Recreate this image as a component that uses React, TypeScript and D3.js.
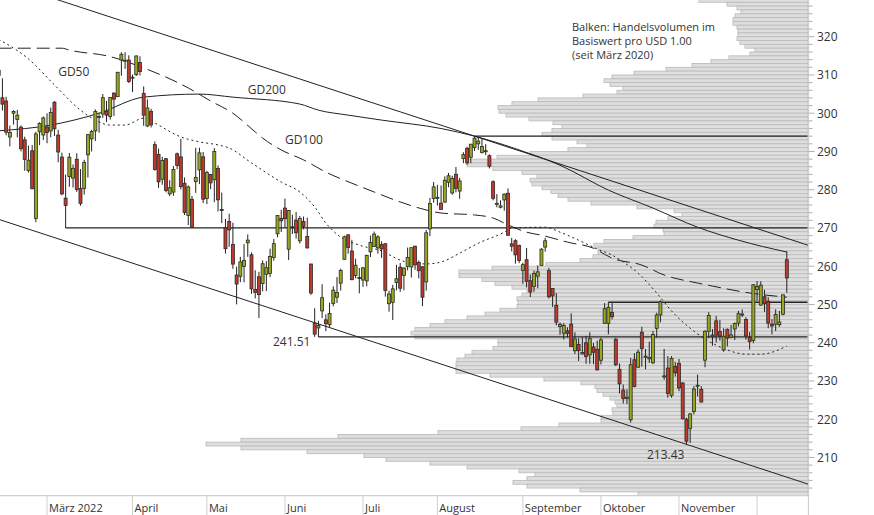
import React from "react";
import * as d3 from "d3";

// [date, open, high, low, close]
const CANDLES: [string, number, number, number, number][] = [
  ["2022-02-09", 309.87, 311.93, 307.39, 311.21],
  ["2022-02-10", 304.04, 309.12, 300.7, 302.38],
  ["2022-02-11", 303.19, 304.29, 294.22, 295.04],
  ["2022-02-14", 293.77, 296.76, 291.35, 295.0],
  ["2022-02-15", 300.01, 300.8, 297.02, 300.47],
  ["2022-02-16", 298.37, 300.87, 293.68, 299.5],
  ["2022-02-17", 296.36, 296.8, 290.0, 290.73],
  ["2022-02-18", 293.05, 293.86, 284.96, 287.93],
  ["2022-02-22", 285.0, 291.54, 284.5, 287.72],
  ["2022-02-23", 290.18, 291.7, 280.1, 280.27],
  ["2022-02-24", 272.51, 295.16, 271.52, 294.59],
  ["2022-02-25", 295.14, 297.63, 291.65, 297.31],
  ["2022-02-28", 294.31, 299.14, 293.0, 298.79],
  ["2022-03-01", 296.4, 299.97, 292.15, 294.95],
  ["2022-03-02", 295.36, 301.47, 293.7, 300.19],
  ["2022-03-03", 302.89, 303.13, 294.05, 295.92],
  ["2022-03-04", 294.29, 295.66, 287.17, 289.86],
  ["2022-03-07", 288.53, 289.69, 278.53, 278.91],
  ["2022-03-08", 277.8, 283.96, 270.0, 275.85],
  ["2022-03-09", 283.44, 289.6, 280.78, 288.5],
  ["2022-03-10", 283.02, 286.6, 280.58, 285.59],
  ["2022-03-11", 287.96, 289.51, 279.43, 280.07],
  ["2022-03-14", 280.34, 285.4, 275.82, 276.44],
  ["2022-03-15", 280.35, 287.82, 278.73, 287.15],
  ["2022-03-16", 289.11, 294.57, 283.2, 294.39],
  ["2022-03-17", 293.29, 295.66, 290.0, 295.22],
  ["2022-03-18", 295.37, 301.0, 292.73, 300.43],
  ["2022-03-21", 298.89, 300.14, 294.9, 299.16],
  ["2022-03-22", 299.8, 305.0, 298.77, 304.06],
  ["2022-03-23", 300.51, 303.23, 297.72, 299.49],
  ["2022-03-24", 299.14, 304.2, 298.32, 304.1],
  ["2022-03-25", 305.23, 305.5, 299.29, 303.68],
  ["2022-03-28", 304.33, 310.8, 304.33, 310.7],
  ["2022-03-29", 313.91, 315.95, 309.8, 315.41],
  ["2022-03-30", 313.76, 315.95, 311.58, 313.86],
  ["2022-03-31", 313.9, 315.14, 307.89, 308.31],
  ["2022-04-01", 309.37, 310.13, 305.54, 309.42],
  ["2022-04-04", 310.09, 315.11, 309.71, 314.97],
  ["2022-04-05", 313.27, 314.87, 309.87, 310.88],
  ["2022-04-06", 305.19, 307.0, 296.71, 299.5],
  ["2022-04-07", 296.66, 303.65, 296.35, 301.37],
  ["2022-04-08", 300.44, 301.12, 296.28, 296.97],
  ["2022-04-11", 291.79, 292.61, 285.0, 285.26],
  ["2022-04-12", 289.24, 290.74, 280.49, 282.06],
  ["2022-04-13", 282.73, 288.58, 281.3, 287.62],
  ["2022-04-14", 288.09, 288.31, 279.32, 279.83],
  ["2022-04-18", 278.91, 282.46, 278.34, 280.52],
  ["2022-04-19", 279.38, 286.17, 278.41, 285.3],
  ["2022-04-20", 289.4, 289.7, 285.37, 286.36],
  ["2022-04-21", 288.58, 293.3, 280.06, 280.81],
  ["2022-04-22", 281.68, 283.2, 273.38, 274.03],
  ["2022-04-25", 273.29, 281.11, 270.77, 280.72],
  ["2022-04-26", 277.5, 278.36, 270.0, 270.22],
  ["2022-04-27", 282.1, 290.97, 279.16, 283.22],
  ["2022-04-28", 285.19, 290.98, 281.46, 289.63],
  ["2022-04-29", 288.61, 289.88, 276.5, 277.52],
  ["2022-05-02", 277.71, 284.94, 276.22, 284.47],
  ["2022-05-03", 283.96, 284.13, 280.15, 281.78],
  ["2022-05-04", 282.59, 290.88, 276.73, 289.98],
  ["2022-05-05", 285.54, 286.35, 274.34, 277.35],
  ["2022-05-06", 274.81, 279.25, 271.27, 274.73],
  ["2022-05-09", 270.06, 272.36, 263.32, 264.58],
  ["2022-05-10", 271.69, 273.75, 265.07, 269.5],
  ["2022-05-11", 265.68, 271.36, 259.3, 260.55],
  ["2022-05-12", 257.69, 259.88, 250.02, 255.35],
  ["2022-05-13", 257.35, 262.45, 255.82, 261.12],
  ["2022-05-16", 259.96, 265.82, 255.78, 261.5],
  ["2022-05-17", 266.11, 268.33, 262.46, 266.82],
  ["2022-05-18", 263.0, 263.6, 252.77, 254.08],
  ["2022-05-19", 253.9, 258.95, 251.58, 253.14],
  ["2022-05-20", 257.24, 258.54, 246.44, 252.56],
  ["2022-05-23", 255.49, 261.5, 253.43, 260.65],
  ["2022-05-24", 257.89, 261.33, 253.5, 259.62],
  ["2022-05-25", 258.14, 264.58, 257.13, 262.52],
  ["2022-05-26", 262.27, 267.11, 261.43, 265.9],
  ["2022-05-27", 268.48, 273.34, 267.56, 273.24],
  ["2022-05-31", 272.53, 274.77, 268.93, 271.87],
  ["2022-06-01", 275.2, 277.69, 270.04, 272.42],
  ["2022-06-02", 264.45, 274.65, 261.6, 274.58],
  ["2022-06-03", 270.31, 273.45, 268.41, 270.02],
  ["2022-06-06", 272.06, 274.18, 267.22, 268.75],
  ["2022-06-07", 266.64, 273.13, 265.94, 272.5],
  ["2022-06-08", 271.71, 273.0, 269.61, 270.41],
  ["2022-06-09", 267.78, 272.71, 264.63, 264.79],
  ["2022-06-10", 260.58, 260.58, 252.53, 252.99],
  ["2022-06-13", 245.11, 249.02, 241.53, 242.26],
  ["2022-06-14", 243.86, 245.74, 241.51, 244.49],
  ["2022-06-15", 248.31, 255.3, 246.42, 251.76],
  ["2022-06-16", 245.98, 247.42, 243.02, 244.97],
  ["2022-06-17", 244.7, 250.5, 244.03, 247.65],
  ["2022-06-21", 250.26, 254.75, 249.51, 253.74],
  ["2022-06-22", 251.89, 257.17, 250.37, 253.13],
  ["2022-06-23", 255.57, 259.37, 253.63, 258.86],
  ["2022-06-24", 261.81, 267.98, 261.72, 267.7],
  ["2022-06-27", 268.21, 268.3, 263.28, 264.89],
  ["2022-06-28", 263.98, 266.91, 256.32, 256.48],
  ["2022-06-29", 257.59, 261.97, 256.81, 260.26],
  ["2022-06-30", 257.05, 259.53, 252.9, 256.83],
  ["2022-07-01", 256.39, 259.77, 254.61, 259.58],
  ["2022-07-05", 256.16, 262.98, 254.74, 262.85],
  ["2022-07-06", 263.75, 267.99, 262.4, 266.21],
  ["2022-07-07", 265.12, 269.06, 265.02, 268.4],
  ["2022-07-08", 264.79, 268.1, 263.29, 267.66],
  ["2022-07-11", 265.65, 266.53, 262.18, 264.51],
  ["2022-07-12", 265.88, 265.94, 252.04, 253.67],
  ["2022-07-13", 250.19, 253.55, 248.11, 252.72],
  ["2022-07-14", 250.57, 255.14, 245.94, 254.08],
  ["2022-07-15", 255.72, 260.37, 253.68, 256.72],
  ["2022-07-18", 259.75, 260.84, 253.3, 254.25],
  ["2022-07-19", 257.58, 259.72, 253.68, 259.53],
  ["2022-07-20", 259.9, 264.87, 258.91, 262.27],
  ["2022-07-21", 259.79, 264.89, 257.03, 264.84],
  ["2022-07-22", 265.24, 265.33, 259.07, 260.36],
  ["2022-07-25", 261.0, 261.5, 256.81, 258.83],
  ["2022-07-26", 259.86, 259.88, 249.57, 251.9],
  ["2022-07-27", 255.89, 269.48, 253.61, 268.74],
  ["2022-07-28", 269.75, 277.84, 267.87, 276.41],
  ["2022-07-29", 277.7, 282.0, 276.63, 280.74],
  ["2022-08-01", 277.82, 281.28, 275.84, 278.01],
  ["2022-08-02", 276.48, 281.11, 275.08, 274.82],
  ["2022-08-03", 276.76, 283.5, 276.61, 282.47],
  ["2022-08-04", 281.95, 284.39, 280.64, 283.65],
  ["2022-08-05", 279.15, 283.65, 278.68, 282.91],
  ["2022-08-08", 284.05, 285.92, 279.32, 280.32],
  ["2022-08-09", 279.64, 283.08, 277.61, 282.3],
  ["2022-08-10", 288.17, 289.81, 286.94, 289.16],
  ["2022-08-11", 290.85, 291.21, 286.51, 287.02],
  ["2022-08-12", 288.48, 291.91, 286.94, 291.91],
  ["2022-08-15", 291.0, 294.0, 290.11, 293.47],
  ["2022-08-16", 291.99, 293.6, 290.42, 292.71],
  ["2022-08-17", 289.74, 293.35, 289.47, 291.32],
  ["2022-08-18", 290.19, 291.91, 289.08, 290.17],
  ["2022-08-19", 288.9, 289.25, 285.56, 286.15],
  ["2022-08-22", 282.08, 282.46, 277.22, 277.75],
  ["2022-08-23", 276.44, 278.86, 275.4, 276.44],
  ["2022-08-24", 275.41, 277.23, 275.11, 275.79],
  ["2022-08-25", 277.33, 279.02, 274.52, 278.85],
  ["2022-08-26", 279.08, 280.34, 267.98, 268.09],
  ["2022-08-29", 265.85, 267.4, 263.85, 265.23],
  ["2022-08-30", 266.67, 267.05, 260.66, 262.97],
  ["2022-08-31", 265.39, 265.64, 260.8, 261.47],
  ["2022-09-01", 258.87, 260.89, 255.41, 260.4],
  ["2022-09-02", 261.7, 264.74, 254.47, 256.06],
  ["2022-09-06", 256.2, 257.83, 251.94, 253.25],
  ["2022-09-07", 254.7, 258.84, 253.32, 258.09],
  ["2022-09-08", 257.4, 260.2, 254.22, 258.52],
  ["2022-09-09", 260.2, 264.71, 260.13, 264.46],
  ["2022-09-12", 265.0, 267.45, 263.8, 266.65],
  ["2022-09-13", 258.84, 259.54, 251.59, 251.99],
  ["2022-09-14", 254.19, 254.19, 249.37, 252.22],
  ["2022-09-15", 249.77, 253.0, 244.55, 245.38],
  ["2022-09-16", 244.26, 245.3, 242.06, 244.74],
  ["2022-09-19", 242.47, 245.14, 240.85, 244.52],
  ["2022-09-20", 243.1, 244.01, 241.33, 242.45],
  ["2022-09-21", 244.85, 247.66, 238.9, 238.95],
  ["2022-09-22", 237.88, 242.74, 237.05, 240.98],
  ["2022-09-23", 239.54, 241.13, 235.2, 237.92],
  ["2022-09-26", 237.05, 241.45, 236.9, 237.45],
  ["2022-09-27", 239.98, 241.8, 234.5, 236.41],
  ["2022-09-28", 236.81, 242.74, 234.48, 241.07],
  ["2022-09-29", 238.89, 239.95, 234.41, 237.5],
  ["2022-09-30", 238.29, 240.54, 232.73, 232.9],
  ["2022-10-03", 235.41, 241.28, 234.33, 240.74],
  ["2022-10-04", 245.09, 250.36, 244.98, 248.88],
  ["2022-10-05", 245.01, 250.58, 242.2, 249.2],
  ["2022-10-06", 247.93, 250.34, 246.08, 246.79],
  ["2022-10-07", 240.9, 241.32, 233.87, 234.24],
  ["2022-10-10", 233.05, 234.56, 226.73, 229.25],
  ["2022-10-11", 227.62, 229.06, 224.11, 225.41],
  ["2022-10-12", 225.4, 227.86, 223.96, 225.75],
  ["2022-10-13", 219.85, 236.01, 219.13, 234.24],
  ["2022-10-14", 235.54, 237.24, 228.34, 228.56],
  ["2022-10-17", 233.6, 238.21, 233.42, 237.53],
  ["2022-10-18", 242.74, 244.15, 233.72, 238.5],
  ["2022-10-19", 236.19, 238.36, 233.05, 236.48],
  ["2022-10-20", 235.77, 240.26, 234.72, 236.15],
  ["2022-10-21", 234.74, 243.09, 234.44, 242.12],
  ["2022-10-24", 243.76, 247.84, 241.3, 247.25],
  ["2022-10-25", 247.26, 251.04, 245.33, 250.66],
  ["2022-10-26", 231.17, 238.38, 230.3, 231.32],
  ["2022-10-27", 233.38, 236.5, 225.61, 226.75],
  ["2022-10-28", 226.24, 236.49, 225.61, 235.87],
  ["2022-10-31", 233.76, 234.92, 231.15, 232.13],
  ["2022-11-01", 234.6, 235.74, 227.33, 228.17],
  ["2022-11-02", 229.46, 229.71, 219.94, 220.1],
  ["2022-11-03", 220.0, 220.41, 213.43, 214.25],
  ["2022-11-04", 217.55, 221.59, 213.8, 221.39],
  ["2022-11-07", 221.99, 228.63, 221.28, 227.87],
  ["2022-11-08", 228.6, 231.65, 225.95, 228.87],
  ["2022-11-09", 227.8, 228.65, 224.33, 224.51],
  ["2022-11-10", 235.43, 243.25, 233.59, 242.98],
  ["2022-11-11", 242.99, 247.99, 241.2, 247.11],
  ["2022-11-14", 241.99, 243.58, 239.21, 241.55],
  ["2022-11-15", 245.7, 247.0, 240.03, 241.97],
  ["2022-11-16", 242.9, 245.93, 240.53, 241.73],
  ["2022-11-17", 238.1, 243.78, 237.63, 241.68],
  ["2022-11-18", 243.51, 243.74, 239.03, 241.22],
  ["2022-11-21", 241.43, 244.67, 241.19, 242.05],
  ["2022-11-22", 243.59, 245.26, 240.71, 245.03],
  ["2022-11-23", 245.11, 248.34, 244.27, 247.58],
  ["2022-11-25", 247.31, 248.7, 246.73, 247.49],
  ["2022-11-28", 246.08, 246.65, 240.8, 241.76],
  ["2022-11-29", 241.4, 242.79, 238.21, 240.33],
  ["2022-11-30", 240.57, 255.33, 239.86, 255.14],
  ["2022-12-01", 253.87, 256.12, 250.91, 254.69],
  ["2022-12-02", 249.82, 256.06, 249.69, 255.02],
  ["2022-12-05", 252.01, 253.82, 248.06, 250.2],
  ["2022-12-06", 250.82, 251.86, 243.78, 245.12],
  ["2022-12-07", 244.83, 246.16, 242.21, 244.37],
  ["2022-12-08", 244.84, 248.74, 243.06, 247.4],
  ["2022-12-09", 244.7, 248.31, 244.16, 245.42],
  ["2022-12-12", 247.45, 252.54, 247.17, 252.51],
  ["2022-12-13", 261.69, 263.92, 253.07, 256.92],
];

// Moving averages
const GD50: [string, number][] = [
  ["2022-02-09", 319.3], ["2022-02-22", 314.2], ["2022-03-03", 307.4], ["2022-03-14", 300.8],
  ["2022-03-18", 298.2], ["2022-03-24", 296.9], ["2022-03-30", 296.9], ["2022-04-06", 298.7],
  ["2022-04-08", 297.9], ["2022-04-21", 293.8], ["2022-04-28", 292.5], ["2022-05-05", 291.7],
  ["2022-05-10", 290.9], ["2022-05-18", 287.0], ["2022-05-31", 282.0], ["2022-06-07", 279.4],
  ["2022-06-13", 275.5], ["2022-06-16", 271.3], ["2022-06-23", 267.6], ["2022-06-30", 265.5],
  ["2022-07-11", 264.0], ["2022-07-18", 261.6], ["2022-07-21", 260.8], ["2022-07-27", 260.6],
  ["2022-08-02", 261.1], ["2022-08-09", 263.4], ["2022-08-16", 266.0], ["2022-08-25", 268.9],
  ["2022-08-29", 270.0], ["2022-09-12", 270.2], ["2022-09-16", 268.9], ["2022-09-23", 266.8],
  ["2022-09-30", 264.5], ["2022-10-06", 262.9], ["2022-10-11", 261.1], ["2022-10-17", 258.2],
  ["2022-10-24", 253.0], ["2022-10-28", 248.3], ["2022-11-04", 243.8], ["2022-11-11", 240.4],
  ["2022-11-18", 238.1], ["2022-11-28", 237.0], ["2022-12-02", 237.0], ["2022-12-13", 239.1],
];
const GD100: [string, number][] = [
  ["2022-02-09", 317.0], ["2022-02-25", 317.0], ["2022-03-07", 317.0], ["2022-03-09", 316.5],
  ["2022-03-24", 314.8], ["2022-04-05", 312.2], ["2022-04-25", 306.6], ["2022-05-03", 303.2],
  ["2022-05-11", 300.0], ["2022-05-19", 295.1], ["2022-05-23", 293.5], ["2022-05-31", 290.4],
  ["2022-06-08", 287.8], ["2022-06-16", 284.6], ["2022-06-28", 281.7], ["2022-07-07", 279.4],
  ["2022-07-18", 276.8], ["2022-07-27", 274.7], ["2022-08-02", 273.9], ["2022-08-15", 273.4],
  ["2022-08-22", 272.6], ["2022-08-26", 270.8], ["2022-09-02", 268.9], ["2022-09-09", 268.1],
  ["2022-09-20", 266.3], ["2022-09-29", 264.7], ["2022-10-06", 262.1], ["2022-10-18", 260.3],
  ["2022-10-26", 257.7], ["2022-11-08", 255.6], ["2022-11-14", 254.8], ["2022-11-29", 253.0],
  ["2022-12-13", 251.9],
];
const GD200: [string, number][] = [
  ["2022-02-09", 295.4], ["2022-03-02", 296.9], ["2022-03-21", 300.0], ["2022-04-06", 304.2],
  ["2022-04-28", 305.0], ["2022-05-11", 304.2], ["2022-06-07", 302.4], ["2022-06-14", 300.8],
  ["2022-06-27", 299.5], ["2022-07-11", 298.2], ["2022-08-02", 296.0], ["2022-08-15", 294.0],
  ["2022-08-31", 290.4], ["2022-09-16", 286.4], ["2022-10-05", 279.9], ["2022-10-21", 275.2],
  ["2022-11-08", 270.2], ["2022-11-23", 266.8], ["2022-12-13", 263.7],
];

// Volume profile: 1-USD bins, listed from the bin 329–330 down to 200–201
const VOLUME_TOP_PRICE = 330;
const VOLUME: number[] = [
  109, 81, 71, 67, 73, 75, 75, 71, 70, 70,
  71, 68, 63, 53, 58, 79, 97, 116, 142, 174,
  196, 204, 198, 185, 191, 225, 270, 296, 310, 309,
  302, 279, 255, 246, 256, 266, 256, 231, 221, 240,
  278, 311, 342, 341, 315, 286, 271, 278, 276, 266,
  257, 250, 240, 217, 171, 134, 126, 140, 152, 154,
  145, 144, 175, 204, 214, 210, 210, 215, 228, 262,
  316, 349, 349, 326, 313, 296, 281, 286, 291, 290,
  291, 308, 323, 341, 363, 378, 393, 397, 393, 310,
  310, 315, 336, 343, 351, 352, 352, 352, 318, 264,
  227, 213, 211, 205, 198, 193, 191, 196, 195, 207,
  207, 249, 287, 370, 470, 567, 602, 567, 501, 444,
  422, 378, 341, 289, 273, 281, 295, 281, 228, 170,
];

// Horizontal levels (start at the candle, extend to the axis)
const LEVELS: { date: string; price: number }[] = [
  { date: "2022-03-08", price: 270.0 },
  { date: "2022-06-14", price: 241.51 },
  { date: "2022-08-15", price: 294.0 },
  { date: "2022-10-05", price: 250.58 },
];

// Trend channel (two points each)
const CHANNEL_UPPER: [string, number][] = [["2022-02-09", 334.7], ["2022-12-13", 267.3]];
const CHANNEL_LOWER: [string, number][] = [["2022-02-09", 272.25], ["2022-11-03", 213.43]];

const Y_TICKS = [210, 220, 230, 240, 250, 260, 270, 280, 290, 300, 310, 320];
const MONTHS: { date: string; label: string }[] = [
  { date: "2022-03-01", label: "März 2022" },
  { date: "2022-04-01", label: "April" },
  { date: "2022-05-02", label: "Mai" },
  { date: "2022-06-01", label: "Juni" },
  { date: "2022-07-01", label: "Juli" },
  { date: "2022-08-01", label: "August" },
  { date: "2022-09-01", label: "September" },
  { date: "2022-10-03", label: "Oktober" },
  { date: "2022-11-01", label: "November" },
  { date: "2022-12-01", label: "" },
];
const MA_LABELS = [
  { text: "GD50", date: "2022-03-04", price: 309.7 },
  { text: "GD200", date: "2022-05-17", price: 304.95 },
  { text: "GD100", date: "2022-06-01", price: 291.87 },
];
const LOW_LABELS = [
  { text: "241.51", date: "2022-06-14", price: 241.51, dx: -8, dy: 8.6 },
  { text: "213.43", date: "2022-11-03", price: 213.43, dx: -2, dy: 15 },
];
const NOTE = ["Balken: Handelsvolumen im", "Basiswert pro USD 1.00", "(seit März 2020)"];

const FONT = "'Open Sans', 'Noto Sans', sans-serif";
const TXT = "#333";

export default function App() {
  const W = 874;
  const H = 515;
  const axisX = 808.5;
  const plotBottom = 495.7;

  const dates = CANDLES.map((c) => c[0]);
  const base = dates.indexOf("2022-03-01");
  const idxOf = (d: string) => dates.indexOf(d) - base;

  const x = d3.scaleLinear().domain([-12.65, 204.7]).range([0, 808]);
  const y = d3.scaleLinear().domain([200, 329.6]).range([plotBottom, 0]);
  const xd = (d: string) => x(idxOf(d));
  const volX = d3.scaleLinear().domain([0, 620]).range([808, 188]);

  const maLine = d3
    .line<[string, number]>()
    .x((p) => xd(p[0]))
    .y((p) => y(p[1]))
    .curve(d3.curveMonotoneX);

  const chan = (pts: [string, number][]) => {
    const i0 = idxOf(pts[0][0]);
    const i1 = idxOf(pts[1][0]);
    const slope = (pts[1][1] - pts[0][1]) / (i1 - i0);
    const [d0, d1] = x.domain();
    const p0 = pts[0][1] + slope * (d0 - i0);
    const p1 = pts[0][1] + slope * (d1 - i0);
    return { x1: x(d0), y1: y(p0), x2: x(d1), y2: y(p1) };
  };
  const up = chan(CHANNEL_UPPER);
  const lo = chan(CHANNEL_LOWER);

  const minorTicks = d3.range(202, 330, 2).filter((v) => v % 10 !== 0);

  return (
    <svg
      width={W}
      height={H}
      style={{ position: "absolute", left: 0, top: 0, background: "#fff" }}
      fontFamily={FONT}
    >
      <defs>
        <clipPath id="plot">
          <rect x={0} y={0} width={axisX} height={plotBottom} />
        </clipPath>
      </defs>

      <g clipPath="url(#plot)">
        {/* volume profile */}
        {VOLUME.map((v, i) => {
          const top = VOLUME_TOP_PRICE - i;
          const y0 = y(top);
          const y1 = y(top - 1);
          return (
            <rect
              key={"v" + i}
              x={volX(v)}
              y={y0}
              width={808 - volX(v)}
              height={y1 - y0}
              fill="#dedede"
              stroke="#bdbdbd"
              strokeWidth={0.9}
            />
          );
        })}

        {/* trend channel */}
        <line {...up} stroke="#222" strokeWidth={1} />
        <line {...lo} stroke="#222" strokeWidth={1} />

        {/* moving averages */}
        <path d={maLine(GD200) || ""} fill="none" stroke="#222" strokeWidth={1} />
        <path d={maLine(GD100) || ""} fill="none" stroke="#222" strokeWidth={1} strokeDasharray="13,6" />
        <path d={maLine(GD50) || ""} fill="none" stroke="#222" strokeWidth={1} strokeDasharray="2,3" />

        {/* horizontal levels */}
        {LEVELS.map((l, i) => (
          <line
            key={"l" + i}
            x1={xd(l.date)}
            x2={axisX - 1}
            y1={y(l.price)}
            y2={y(l.price)}
            stroke="#222"
            strokeWidth={1.3}
          />
        ))}

        {/* candles */}
        {CANDLES.map(([d, o, h, l, c]) => {
          const cx = xd(d);
          const top = y(Math.max(o, c));
          const bot = y(Math.min(o, c));
          const up = c >= o;
          return (
            <g key={d}>
              <line x1={cx} x2={cx} y1={y(h)} y2={y(l)} stroke="#222" strokeWidth={1} />
              <rect
                x={cx - 1.5}
                y={top}
                width={3}
                height={Math.max(1, bot - top)}
                fill={up ? "#9aa81c" : "#c0392b"}
                stroke="#2a2a2a"
                strokeWidth={0.8}
              />
            </g>
          );
        })}
      </g>

      {/* labels */}
      {MA_LABELS.map((m) => (
        <text key={m.text} x={xd(m.date)} y={y(m.price)} fontSize={12} fill={TXT}>
          {m.text}
        </text>
      ))}
      {LOW_LABELS.map((m) => (
        <text
          key={m.text}
          x={xd(m.date) + m.dx}
          y={y(m.price) + m.dy}
          fontSize={12}
          fill={TXT}
          textAnchor="end"
        >
          {m.text}
        </text>
      ))}
      {NOTE.map((t, i) => (
        <text key={t} x={572} y={30.5 + i * 14} fontSize={11} fill={TXT}>
          {t}
        </text>
      ))}

      {/* x axis */}
      <line x1={0} x2={axisX} y1={plotBottom} y2={plotBottom} stroke="#cfcfcf" strokeWidth={1.2} />
      {MONTHS.map((m) => (
        <g key={m.date}>
          <line x1={xd(m.date)} x2={xd(m.date)} y1={plotBottom} y2={H} stroke="#cfcfcf" strokeWidth={1} />
          <text x={xd(m.date) + 2} y={511.5} fontSize={11} fill={TXT}>
            {m.label}
          </text>
        </g>
      ))}

      {/* y axis (right) */}
      <line x1={axisX} x2={axisX} y1={0} y2={H} stroke="#cfcfcf" strokeWidth={1.2} />
      {minorTicks.map((v) => (
        <line key={"m" + v} x1={axisX} x2={axisX + 4} y1={y(v)} y2={y(v)} stroke="#b0b0b0" strokeWidth={1} />
      ))}
      {Y_TICKS.map((v) => (
        <g key={"t" + v}>
          <line x1={axisX} x2={axisX + 6} y1={y(v)} y2={y(v)} stroke="#b0b0b0" strokeWidth={1} />
          <text x={817} y={y(v) + 4.4} fontSize={12} fill={TXT}>
            {v}
          </text>
        </g>
      ))}
    </svg>
  );
}
